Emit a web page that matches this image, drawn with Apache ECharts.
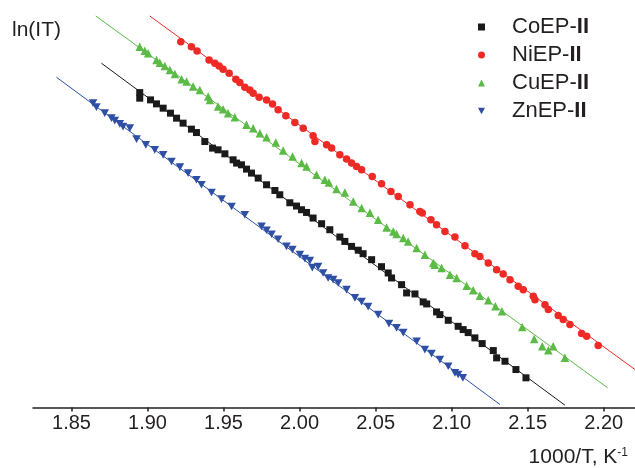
<!DOCTYPE html>
<html>
<head>
<meta charset="utf-8">
<script src="https://cdn.jsdelivr.net/npm/echarts@6/dist/echarts.min.js"></script>
<style>
html,body{margin:0;padding:0;background:#fff;}
#chart{width:635px;height:468px;}
</style>
</head>
<body>
<div id="chart"></div>
<script>
// ---- data (x = 1000/T, K^-1 ; y = ln(IT), arbitrary offset units) ----
var xTicks = [1.85, 1.90, 1.95, 2.00, 2.05, 2.10, 2.15, 2.20];
var seriesNames = ['CoEP-II', 'NiEP-II', 'CuEP-II', 'ZnEP-II'];

var coX = [1.8949,1.8949,1.9020,1.9059,1.9103,1.9151,1.9191,1.9234,1.9289,1.9322,1.9377,1.9428,1.9464,1.9509,1.9563,1.9586,1.9618,1.9651,1.9684,1.9728,1.9783,1.9838,1.9870,1.9936,1.9980,2.0013,2.0046,2.0089,2.0145,2.0199,2.0265,2.0298,2.0342,2.0386,2.0418,2.0474,2.0539,2.0583,2.0605,2.0671,2.0704,2.0759,2.0813,2.0836,2.0901,2.0923,2.0978,2.1043,2.1076,2.1109,2.1153,2.1201,2.1274,2.1296,2.1351,2.1423,2.1489];
var coY = [31.53,30.97,30.80,30.40,29.97,29.47,28.97,28.47,27.87,27.53,26.63,25.97,25.80,25.40,24.80,24.47,24.30,23.87,23.47,22.97,22.30,21.73,21.30,20.50,20.17,19.80,19.53,18.97,18.40,17.80,17.07,16.63,16.13,15.75,15.40,14.80,14.10,13.47,12.97,12.30,11.47,11.37,10.57,10.37,9.57,9.30,8.73,8.13,7.80,7.50,6.97,6.40,5.70,4.97,4.63,3.80,2.97];

var niX = [1.9219,1.9289,1.9326,1.9405,1.9443,1.9471,1.9497,1.9537,1.9581,1.9607,1.9640,1.9673,1.9695,1.9734,1.9783,1.9822,1.9859,1.9910,1.9969,2.0024,2.0089,2.0101,2.0178,2.0211,2.0265,2.0309,2.0342,2.0375,2.0408,2.0478,2.0539,2.0601,2.0649,2.0726,2.0791,2.0807,2.0864,2.0901,2.0956,2.1022,2.1088,2.1153,2.1186,2.1241,2.1296,2.1339,2.1384,2.1438,2.1471,2.1537,2.1548,2.1614,2.1636,2.1701,2.1734,2.1778,2.1855,2.1888,2.1964];
var niY = [36.63,36.13,35.70,34.80,34.47,34.20,33.87,33.47,32.87,32.53,32.07,31.80,31.47,31.07,30.80,30.40,29.80,29.20,28.53,27.97,27.20,26.63,26.30,25.97,25.30,24.87,24.47,24.13,23.80,23.13,22.40,21.63,21.13,20.30,19.63,19.47,18.80,18.30,17.63,17.07,16.20,15.40,15.13,14.47,13.80,13.37,12.80,12.13,11.80,11.13,10.80,10.30,9.80,9.20,8.80,8.30,7.40,7.13,6.20];

var cuX = [1.8949,1.8982,1.9004,1.9059,1.9081,1.9114,1.9147,1.9180,1.9224,1.9257,1.9300,1.9344,1.9399,1.9410,1.9464,1.9497,1.9530,1.9574,1.9651,1.9695,1.9739,1.9783,1.9844,1.9892,1.9954,2.0013,2.0046,2.0112,2.0166,2.0193,2.0243,2.0298,2.0353,2.0408,2.0463,2.0517,2.0572,2.0616,2.0638,2.0682,2.0714,2.0770,2.0824,2.0879,2.0890,2.0934,2.0989,2.1033,2.1099,2.1142,2.1186,2.1241,2.1288,2.1331,2.1464,2.1543,2.1596,2.1636,2.1668,2.1745];
var cuY = [36.13,35.73,35.47,34.80,34.53,34.20,33.80,33.40,32.87,32.63,32.13,31.80,31.13,30.80,30.13,29.87,29.47,29.07,28.30,27.97,27.47,27.07,26.53,25.73,25.13,24.47,24.13,23.30,22.80,22.53,21.87,21.53,20.63,19.97,19.50,18.80,18.03,17.63,17.37,16.97,16.63,15.97,15.30,14.47,14.30,13.97,13.30,12.97,12.20,11.75,11.20,10.73,10.13,9.63,8.07,6.87,6.13,5.73,6.13,4.97];

var znX = [1.8642,1.8664,1.8719,1.8763,1.8785,1.8818,1.8839,1.8884,1.8928,1.8989,1.9048,1.9103,1.9158,1.9213,1.9267,1.9322,1.9355,1.9421,1.9487,1.9553,1.9640,1.9750,1.9783,1.9816,1.9859,1.9914,1.9953,2.0002,2.0035,2.0068,2.0084,2.0122,2.0155,2.0188,2.0221,2.0254,2.0309,2.0364,2.0408,2.0451,2.0517,2.0588,2.0638,2.0682,2.0770,2.0824,2.0868,2.0923,2.0978,2.1022,2.1043,2.1074];
var znY = [30.47,30.07,29.47,28.97,28.73,28.40,28.13,27.97,26.87,26.30,25.80,25.30,24.63,24.07,23.47,22.80,22.30,21.53,20.87,20.13,19.30,18.13,17.75,17.35,16.85,16.13,15.80,15.30,14.90,14.70,14.00,14.10,13.47,12.97,12.80,12.47,11.80,10.97,10.60,10.10,9.30,8.40,7.97,7.50,6.63,5.80,5.40,4.80,4.13,3.47,3.30,2.97];

// linear fit lines (end points)
var coFitX = [1.8697, 2.1745], coFitY = [34.47, 0.23];
var niFitX = [1.9015, 2.2206], niFitY = [39.20, 3.80];
var cuFitX = [1.8660, 2.2026], cuFitY = [39.20, 1.97];
var znFitX = [1.8401, 2.1318], znFitY = [33.07, 0.30];

var colors = ['#1a1a1a', '#ee2a27', '#5cba47', '#2e4fa3'];
var symbols = ['rect', 'circle', 'triangle', 'path://M0,0 L10,0 L5,9 Z'];
var symbolSizes = [7, 7.5, 8.5, 8.5];

function zip(xs, ys) { return xs.map(function (x, i) { return [x, ys[i]]; }); }

var pts = [zip(coX, coY), zip(niX, niY), zip(cuX, cuY), zip(znX, znY)];
var fits = [zip(coFitX, coFitY), zip(niFitX, niFitY), zip(cuFitX, cuFitY), zip(znFitX, znFitY)];

var FONT = 'Arial, "Liberation Sans", Helvetica, sans-serif';
var series = [];
for (var i = 0; i < 4; i++) {
  series.push({
    name: seriesNames[i] + ' fit',
    type: 'line',
    data: fits[i],
    showSymbol: false,
    symbol: 'none',
    lineStyle: { color: colors[i], width: 1 },
    z: 1,
    silent: true
  });
}
for (var j = 0; j < 4; j++) {
  series.push({
    name: seriesNames[j],
    type: 'scatter',
    data: pts[j],
    symbol: symbols[j],
    symbolSize: symbolSizes[j],
    symbolKeepAspect: true,
    itemStyle: { color: colors[j], opacity: 1 },
    z: 3
  });
}

var chart = echarts.init(document.getElementById('chart'), null, { renderer: 'canvas' });
chart.setOption({
  animation: false,
  backgroundColor: '#ffffff',
  textStyle: { fontFamily: FONT },
  grid: { left: 33, right: 0, top: 8, bottom: 60, containLabel: false },
  legend: {
    data: seriesNames.map(function (n, k) {
      return { name: n, icon: symbols[k], itemStyle: { color: colors[k] } };
    }),
    orient: 'vertical',
    left: 473,
    top: 11,
    padding: 5,
    itemWidth: 7,
    itemHeight: 7,
    itemGap: 6,
    selectedMode: false,
    formatter: function (name) { return '{a|' + name.replace('II', '') + '}{b|II}'; },
    textStyle: {
      fontFamily: FONT, fontSize: 22, color: '#231f20', lineHeight: 22,
      padding: [0, 0, 0, 22],
      rich: {
        a: { fontFamily: FONT, fontSize: 22, color: '#231f20', lineHeight: 22 },
        b: { fontFamily: FONT, fontSize: 22, color: '#231f20', fontWeight: 'bold', lineHeight: 22 }
      }
    }
  },
  xAxis: {
    type: 'value',
    min: 1.8247,
    max: 2.2206,
    name: '{n|1000/T, K}{s|-1}',
    nameLocation: 'end',
    nameGap: -7,
    nameTextStyle: {
      align: 'right', verticalAlign: 'top', padding: [39, 0, 0, 0],
      rich: {
        n: { fontFamily: FONT, fontSize: 21, color: '#231f20', lineHeight: 22 },
        s: { fontFamily: FONT, fontSize: 12, color: '#231f20', verticalAlign: 'top', lineHeight: 12 }
      }
    },
    axisLine: { show: true, onZero: false, lineStyle: { color: '#231f20', width: 1.5 } },
    axisTick: { show: true, inside: false, length: 4, lineStyle: { color: '#231f20', width: 1.5 }, customValues: xTicks },
    axisLabel: {
      show: true, margin: 6, fontFamily: FONT, fontSize: 20, color: '#231f20',
      customValues: xTicks,
      formatter: function (v) { return v.toFixed(2); }
    },
    splitLine: { show: false }
  },
  yAxis: {
    type: 'value',
    min: 0,
    max: 40,
    show: false,
    splitLine: { show: false }
  },
  graphic: [{
    type: 'text',
    left: 12,
    top: 20,
    style: { text: 'ln(IT)', fontFamily: FONT, fontSize: 21, fill: '#231f20' }
  }],
  series: series
});
</script>
</body>
</html>
